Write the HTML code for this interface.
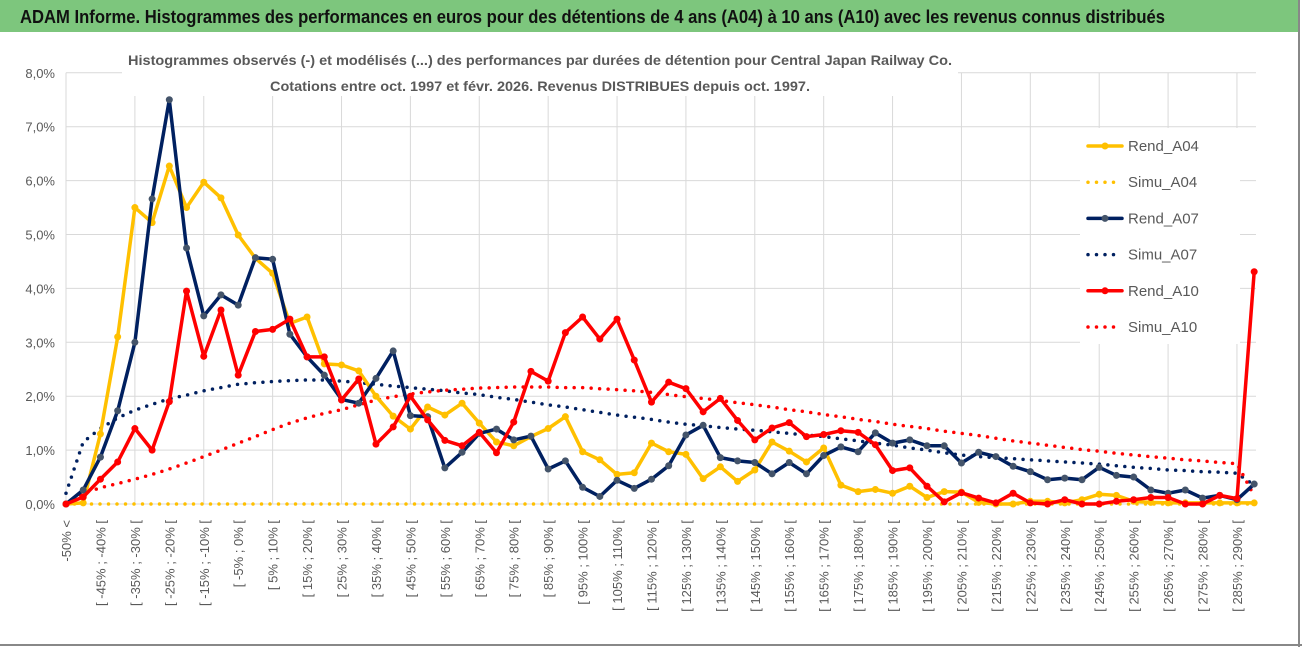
<!DOCTYPE html>
<html><head><meta charset="utf-8"><style>
html,body{margin:0;padding:0;background:#fff;}
svg{display:block;font-family:"Liberation Sans",sans-serif;}
</style></head><body>
<svg id="chart" width="1302" height="647" viewBox="0 0 1302 647">
<rect x="0" y="0" width="1302" height="647" fill="#fff"/>
<rect x="0" y="0" width="1299" height="32" fill="#7DC67D"/>
<text x="20" y="23" font-size="18" font-weight="bold" fill="#111" textLength="1145" lengthAdjust="spacingAndGlyphs">ADAM Informe. Histogrammes des performances en euros pour des détentions de 4 ans (A04) à 10 ans (A10) avec les revenus connus distribués</text>
<line x1="1299" y1="0" x2="1299" y2="647" stroke="#888" stroke-width="2"/>
<line x1="0" y1="645" x2="1302" y2="645" stroke="#888" stroke-width="2"/>
<g id="grid"></g>
<g id="yaxis"></g>
<g id="xaxis"></g>
<rect x="122" y="44" width="836" height="52" fill="#fff"/>
<text x="540" y="65" font-size="14" font-weight="bold" fill="#595959" text-anchor="middle" textLength="824" lengthAdjust="spacingAndGlyphs">Histogrammes observés (-) et modélisés (...) des performances par durées de détention pour Central Japan Railway Co.</text>
<text x="540" y="91" font-size="14" font-weight="bold" fill="#595959" text-anchor="middle" textLength="540" lengthAdjust="spacingAndGlyphs">Cotations entre oct. 1997 et févr. 2026. Revenus DISTRIBUES depuis oct. 1997.</text>
<g id="series"></g>
<g id="legend"></g>
</svg>
<script>
const categoriesCount = 70;
const yTicks = [0,1,2,3,4,5,6,7,8];
const rendA04 = [0,0.02,1.3,3.1,5.5,5.22,6.27,5.5,5.97,5.68,4.99,4.56,4.28,3.35,3.47,2.6,2.58,2.47,2.0,1.63,1.39,1.8,1.65,1.87,1.5,1.15,1.08,1.25,1.4,1.62,0.97,0.82,0.55,0.58,1.13,0.97,0.92,0.47,0.69,0.42,0.63,1.15,0.98,0.78,1.04,0.35,0.23,0.27,0.2,0.33,0.12,0.23,0.22,0.03,0,0,0.05,0.05,0.02,0.08,0.18,0.16,0.05,0.03,0.02,0.02,0.02,0.02,0.02,0.02];
const rendA07 = [0,0.26,0.87,1.73,3.0,5.66,7.5,4.75,3.49,3.88,3.69,4.57,4.54,3.15,2.73,2.39,1.94,1.87,2.33,2.84,1.64,1.62,0.67,0.96,1.31,1.39,1.19,1.26,0.65,0.8,0.31,0.14,0.44,0.29,0.46,0.71,1.28,1.46,0.86,0.8,0.77,0.56,0.77,0.56,0.9,1.06,0.97,1.32,1.13,1.19,1.08,1.08,0.76,0.96,0.88,0.7,0.6,0.45,0.48,0.45,0.68,0.53,0.5,0.26,0.2,0.26,0.11,0.16,0.08,0.37];
const rendA10 = [0,0.13,0.46,0.78,1.4,1.0,1.9,3.95,2.74,3.6,2.39,3.2,3.24,3.43,2.73,2.73,1.93,2.32,1.11,1.43,2.0,1.56,1.18,1.08,1.33,0.95,1.52,2.46,2.28,3.18,3.47,3.06,3.43,2.67,1.89,2.26,2.14,1.71,1.96,1.55,1.19,1.41,1.51,1.25,1.29,1.36,1.33,1.1,0.62,0.67,0.33,0.04,0.21,0.11,0.02,0.2,0.02,0,0.08,0,0,0.05,0.08,0.12,0.12,0,0,0.16,0.1,4.31];
const simuA04 = [0,0,0,0,0,0,0,0,0,0,0,0,0,0,0,0,0,0,0,0,0,0,0,0,0,0,0,0,0,0,0,0,0,0,0,0,0,0,0,0,0,0,0,0,0,0,0,0,0,0,0,0,0,0,0,0,0,0,0,0,0,0,0,0,0,0,0,0,0,0];
const simuA07 = [0.2,1.15,1.4,1.6,1.74,1.85,1.95,2.02,2.1,2.16,2.22,2.25,2.27,2.29,2.3,2.3,2.28,2.25,2.22,2.19,2.16,2.13,2.1,2.06,2.03,1.98,1.94,1.89,1.84,1.8,1.75,1.7,1.65,1.61,1.57,1.52,1.48,1.45,1.42,1.39,1.37,1.34,1.31,1.28,1.25,1.21,1.17,1.13,1.09,1.04,1.0,0.95,0.91,0.88,0.86,0.84,0.82,0.8,0.78,0.76,0.74,0.71,0.68,0.66,0.63,0.62,0.6,0.59,0.57,0.35];
const simuA10 = [0,0.2,0.3,0.38,0.46,0.55,0.65,0.76,0.88,1.0,1.13,1.25,1.38,1.5,1.6,1.68,1.75,1.84,1.93,1.99,2.04,2.08,2.11,2.13,2.15,2.16,2.17,2.17,2.17,2.16,2.16,2.14,2.12,2.1,2.07,2.03,1.99,1.96,1.92,1.88,1.84,1.8,1.75,1.71,1.66,1.62,1.57,1.53,1.48,1.44,1.4,1.35,1.31,1.27,1.22,1.17,1.13,1.09,1.05,1.01,0.98,0.94,0.91,0.88,0.85,0.82,0.8,0.77,0.75,0.15];
const legendLabels = ["Rend_A04","Simu_A04","Rend_A07","Simu_A07","Rend_A10","Simu_A10"];

const NS = "http://www.w3.org/2000/svg";
function xs(i){ return 66 + i * 17.22; }
function ys(v){ return 504 - v * 53.9; }
function catLabel(i){ if(i===0) return "-50% <"; const a = -50 + 5*(i-1); return "[ " + a + "% ; " + (a+5) + "% ["; }
function mk(tag, attrs, parent){ const e = document.createElementNS(NS, tag); for(const k in attrs) e.setAttribute(k, attrs[k]); parent.appendChild(e); return e; }

const grid = document.getElementById('grid');
yTicks.forEach(t => {
  const l = mk('line', {x1:66, x2:1256, y1:ys(t), y2:ys(t), stroke:'#d9d9d9', 'stroke-width':1}, grid);
  
  
});
for(let i=0;i<categoriesCount;i+=4){
  const l = mk('line', {x1:xs(i), x2:xs(i), y1:ys(8), y2:ys(0), stroke:'#d9d9d9', 'stroke-width':1}, grid);
  
  
}
const yaxis = document.getElementById('yaxis');
yTicks.forEach(t => {
  const tx = mk('text', {x:55, y:ys(t)+5, 'font-size':13, fill:'#595959', 'text-anchor':'end'}, yaxis);
  tx.textContent = t.toFixed(1).replace('.', ',') + '%';
  
  
});
const xaxis = document.getElementById('xaxis');
for(let i=0;i<categoriesCount;i+=2){
  const tx = mk('text', {x:0, y:0, 'font-size':13, fill:'#595959', 'text-anchor':'end', transform:'translate('+(xs(i)+5)+',520) rotate(-90)'}, xaxis);
  tx.textContent = catLabel(i);
  
  
}

const seriesG = document.getElementById('series');
function pts(arr){ return arr.map((v,i)=> xs(i).toFixed(1)+','+ys(v).toFixed(1)).join(' '); }
function dotted(arr, color, name){
  const p = mk('polyline', {points:pts(arr), fill:'none', stroke:color, 'stroke-width':3.5, 'stroke-linecap':'round', 'stroke-dasharray':'0 8.5'}, seriesG);
  
  
}
function solid(arr, color, markerColor, name){
  const p = mk('polyline', {points:pts(arr), fill:'none', stroke:color, 'stroke-width':3.5, 'stroke-linejoin':'round'}, seriesG);
  
  
  arr.forEach((v,i)=>{
    const c = mk('circle', {cx:xs(i), cy:ys(v), r:3.5, fill:markerColor}, seriesG);
    
    
  });
}
dotted(simuA04, '#FFC000', 'simu-a04-line');
dotted(simuA07, '#002060', 'simu-a07-line');
dotted(simuA10, '#FF0000', 'simu-a10-line');
solid(rendA04, '#FFC000', '#FFC000', 'rend-a04-line');
solid(rendA07, '#002060', '#44546A', 'rend-a07-line');
solid(rendA10, '#FF0000', '#FF0000', 'rend-a10-line');

const legend = document.getElementById('legend');
mk('rect', {x:1080, y:128, width:160, height:216, fill:'#fff'}, legend);
const lcolors = ['#FFC000','#FFC000','#002060','#002060','#FF0000','#FF0000'];
legendLabels.forEach((lab, k) => {
  const yy = 146 + k*36.2;
  const isSim = k % 2 === 1;
  const l = mk('line', {x1:1088, x2:1122, y1:yy, y2:yy, stroke:lcolors[k], 'stroke-width':isSim?3.5:3.5, 'stroke-linecap':'round', 'stroke-dasharray':isSim?'0 8.5':'none'}, legend);
  
  
  if(!isSim){
    const c = mk('circle', {cx:1105, cy:yy, r:3.5, fill: k===2 ? '#44546A' : lcolors[k]}, legend);
    
    
  }
  const t = mk('text', {x:1128, y:yy+5, 'font-size':15, fill:'#595959'}, legend);
  t.textContent = lab;
  
  
});
</script>
</body></html>
